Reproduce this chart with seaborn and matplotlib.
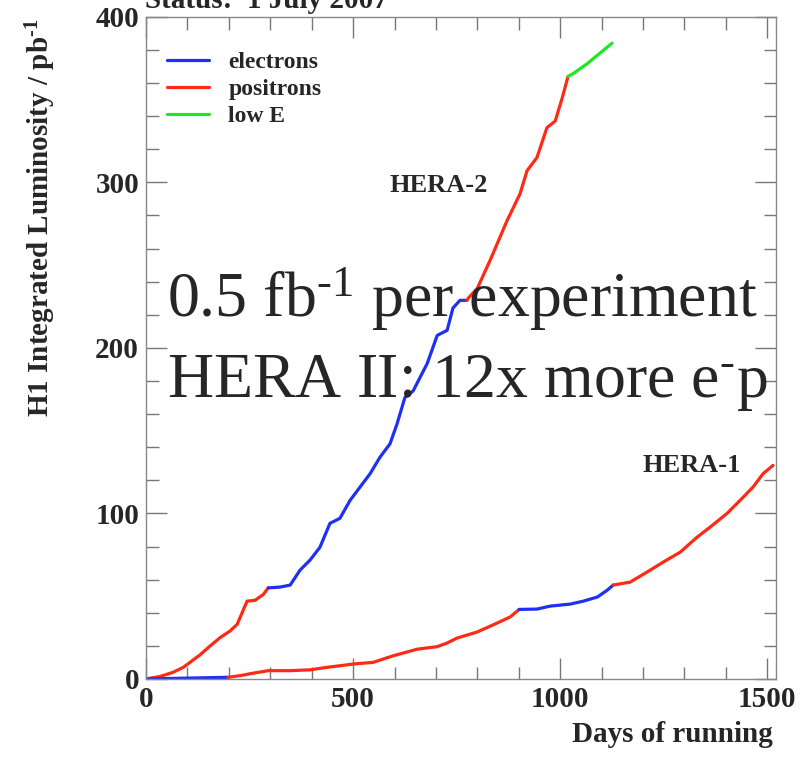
import numpy as np
import pandas as pd
import matplotlib
matplotlib.use("Agg")
import matplotlib.pyplot as plt
import seaborn as sns
from matplotlib.lines import Line2D
from matplotlib.ticker import MultipleLocator

# HERA-2 period (days, pb^-1)
h2_pos_a_days = [0, 34, 65, 90, 106, 130, 155, 179, 203, 220, 232, 244, 263, 283, 295]
h2_pos_a_lumi = [0, 1.5, 4, 7, 10, 14.5, 20, 25, 29, 33, 40, 47, 47.5, 51, 55]
h2_ele_days = [295, 324, 348, 372, 396, 420, 444, 468, 493, 517, 541, 565, 589, 606,
               625, 645, 679, 703, 727, 741, 758, 775]
h2_ele_lumi = [55, 55.5, 56.7, 65.8, 71.8, 79.6, 94, 97, 108, 116, 124, 134, 142, 154,
               170, 174, 190.6, 207.5, 210.6, 224, 228.7, 228.7]
h2_pos_b_days = [775, 778, 800, 831, 872, 903, 920, 944, 968, 988, 1005, 1019]
h2_pos_b_lumi = [228.7, 230, 236, 253, 277, 293, 307, 315, 333, 337, 351, 364]
h2_lowe_days = [1019, 1031, 1065, 1096, 1125]
h2_lowe_lumi = [364, 365.6, 371.6, 378, 384]

# HERA-1 period
h1_ele_a_days = [0, 100, 198]
h1_ele_a_lumi = [0, 0.5, 1]
h1_pos_a_days = [198, 227, 259, 295, 348, 396, 437, 469, 500, 548, 597, 655, 703, 727,
                 751, 800, 848, 879, 901]
h1_pos_a_lumi = [1, 2, 3.5, 5, 5, 5.5, 7, 8, 9, 10, 14, 18, 19.5, 21.7,
                 24.7, 28.4, 33.8, 37.4, 42]
h1_ele_b_days = [901, 944, 976, 1024, 1056, 1090, 1114, 1128]
h1_ele_b_lumi = [42, 42.2, 44, 45.2, 47, 49.5, 53.7, 56.7]
h1_pos_b_days = [1128, 1169, 1210, 1249, 1290, 1331, 1362, 1403, 1435, 1466, 1490, 1514]
h1_pos_b_lumi = [56.7, 58.5, 64.6, 70.6, 76.6, 85.7, 91.7, 100, 108, 116, 124, 129]

colors = {"electrons": "#1f30f5", "positrons": "#ff2a14", "low E": "#1ee81e"}

segments = [
    (h2_pos_a_days, h2_pos_a_lumi, "positrons"),
    (h2_ele_days, h2_ele_lumi, "electrons"),
    (h2_pos_b_days, h2_pos_b_lumi, "positrons"),
    (h2_lowe_days, h2_lowe_lumi, "low E"),
    (h1_ele_a_days, h1_ele_a_lumi, "electrons"),
    (h1_pos_a_days, h1_pos_a_lumi, "positrons"),
    (h1_ele_b_days, h1_ele_b_lumi, "electrons"),
    (h1_pos_b_days, h1_pos_b_lumi, "positrons"),
]

sns.set_style("ticks")
plt.rcParams['font.family'] = ['Liberation Serif', 'DejaVu Serif']
plt.rcParams['mathtext.fontset'] = 'custom'
plt.rcParams['mathtext.rm'] = 'Liberation Serif'
plt.rcParams['mathtext.it'] = 'Liberation Serif:italic'
plt.rcParams['mathtext.bf'] = 'Liberation Serif:bold'

fig = plt.figure(figsize=(8.07, 7.62), dpi=100)
ax = fig.add_axes([0.181, 0.109, 0.781, 0.869])

for days, lumi, beam in segments:
    seg = pd.DataFrame({"day": days, "lumi": lumi})
    sns.lineplot(data=seg, x="day", y="lumi", ax=ax, color=colors[beam],
                 linewidth=2.3, sort=False, estimator=None)

ax.set_xlim(0, 1522)
ax.set_ylim(0, 400)
ax.xaxis.set_major_locator(MultipleLocator(500))
ax.xaxis.set_minor_locator(MultipleLocator(100))
ax.yaxis.set_major_locator(MultipleLocator(100))
ax.yaxis.set_minor_locator(MultipleLocator(20))
ax.tick_params(which="both", direction="in", top=True, right=True, color="#777777",
               labelsize=21, pad=5)
ax.tick_params(which="major", length=15, width=1)
ax.tick_params(which="minor", length=9, width=1)
for lab in ax.get_xticklabels() + ax.get_yticklabels():
    lab.set_fontweight("bold")
for sp in ax.spines.values():
    sp.set_color("#888888")
    sp.set_linewidth(1)

ax.set_xlabel("")
ax.set_ylabel("")
fig.text(0.958, 0.018, "Days of running", ha="right", va="bottom",
         fontsize=21, fontweight="bold")
fig.text(0.050, 0.975, "H1 Integrated Luminosity / pb$^{\\mathbf{\u20101}}$", rotation=90,
         ha="center", va="top", fontsize=21, fontweight="bold")
fig.text(0.180, 0.9895, "Status:  1 July 2007", ha="left", va="baseline",
         fontsize=21, fontweight="bold")

handles = [Line2D([], [], color=colors[k], linewidth=2.3) for k in colors]
ax.legend(handles, list(colors), loc="upper left", bbox_to_anchor=(0.0, 0.979),
          frameon=False, handlelength=1.78, handletextpad=0.8, labelspacing=0.22,
          prop={"family": "Liberation Serif", "weight": "bold", "size": 17})

ax.text(589, 298, "HERA-2", fontsize=19, fontweight="bold", va="center", ha="left")
ax.text(1200, 129, "HERA-1", fontsize=19, fontweight="bold", va="center", ha="left")

fig.text(0.207, 0.584, "0.5 fb$^{\u20101}$ per experiment", fontsize=46,
         ha="left", va="baseline")
fig.text(0.207, 0.479, "HERA II: 12x more e$^{\u2010}$p", fontsize=46,
         ha="left", va="baseline")

fig.savefig("out.png", dpi=100)
